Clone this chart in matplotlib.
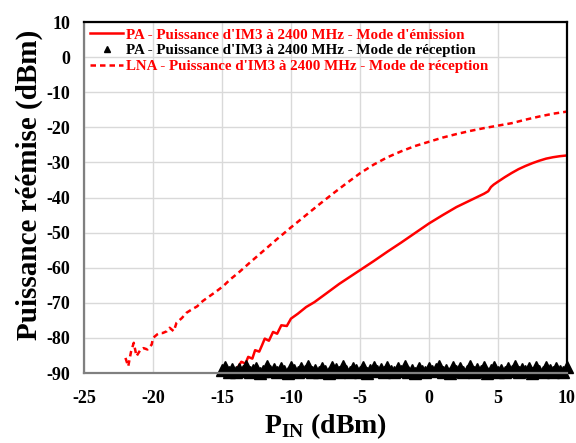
import numpy as np
import matplotlib.pyplot as plt

# %% data
# LNA - IM3 power, reception mode (dashed)
x_lna = [-22.0, -21.8, -21.6, -21.4, -21.2, -20.9, -20.7, -20.4, -20.1, -20.0,
         -19.7, -19.5, -19.3, -19.0, -18.8, -18.5, -18.3, -17.9, -17.6, -17.2,
         -16.8, -16.4, -15.9, -15.4, -14.9, -14.4, -13.8, -13.0, -12.0, -11.0,
         -10.0, -9.0, -8.0, -7.0, -6.0, -5.0, -4.0, -3.0, -2.0, -1.0,
         0.0, 1.0, 2.0, 3.0, 4.0, 5.0, 6.0, 7.0, 8.0, 9.0, 10.0]
y_lna = [-85.7, -88.1, -84.0, -81.4, -85.2, -83.3, -82.9, -83.3, -81.9, -80.0,
         -79.0, -78.6, -78.6, -78.1, -77.1, -78.1, -75.7, -74.3, -72.9, -71.9,
         -71.0, -69.5, -68.1, -66.7, -65.2, -63.3, -61.4, -58.6, -55.2, -51.8,
         -48.5, -45.3, -42.1, -39.0, -36.0, -33.1, -30.6, -28.5, -26.8, -25.3,
         -24.1, -22.9, -21.9, -21.0, -20.2, -19.5, -18.8, -17.8, -16.9, -16.1, -15.5]

# PA - IM3 power, emission mode (solid)
x_pa_tx = [-14.3, -13.9, -13.6, -13.3, -13.1, -12.8, -12.6, -12.3, -12.1, -11.9,
           -11.6, -11.3, -11.0, -10.7, -10.3, -10.0, -9.5, -8.9, -8.3, -7.5,
           -6.5, -5.5, -5.0, -4.0, -3.0, -2.0, -1.0, 0.0, 1.0, 2.0,
           3.0, 4.0, 4.3, 4.5, 4.7, 5.0, 5.5, 6.0, 6.5, 7.0,
           7.5, 8.0, 8.5, 9.0, 9.5, 10.0]
y_pa_tx = [-89.5, -88.7, -86.8, -87.3, -85.4, -85.9, -83.5, -83.9, -82.1, -80.2,
           -80.8, -78.3, -78.8, -76.4, -76.6, -74.5, -73.1, -71.2, -69.8, -67.5,
           -64.6, -62.0, -60.7, -58.1, -55.4, -52.8, -50.1, -47.4, -45.0, -42.7,
           -40.8, -38.9, -38.2, -37.0, -36.3, -35.5, -34.2, -33.0, -31.9, -31.0,
           -30.2, -29.5, -28.9, -28.5, -28.2, -28.0]

# PA - IM3 power, reception mode (triangles, noise floor)
x_pa_rx = np.arange(-15.0, 10.01, 0.25)
y_pa_rx = [-89.2, -88.4, -89.6, -89.0, -89.8, -88.9, -89.4, -88.1, -89.7, -89.1,
           -88.5, -89.9, -89.3, -87.9, -89.5, -89.0, -89.8, -88.6, -89.4, -89.9,
           -88.3, -89.2, -89.7, -88.7, -89.5, -88.0, -89.8, -89.1, -89.6, -88.6,
           -89.3, -89.9, -88.2, -89.0, -89.7, -88.1, -89.4, -89.8, -88.7, -89.2,
           -89.6, -88.4, -89.9, -89.1, -88.2, -89.5, -89.0, -89.8, -88.3, -89.3,
           -89.7, -88.7, -89.4, -87.9, -89.6, -89.1, -89.9, -88.5, -89.3, -89.8,
           -88.6, -89.5, -89.0, -88.1, -89.7, -89.2, -89.9, -88.3, -89.4, -88.7,
           -89.8, -89.3, -88.0, -89.6, -89.0, -89.5, -88.4, -89.9, -89.2, -88.2,
           -89.7, -89.1, -89.6, -88.5, -89.4, -88.1, -89.8, -89.0, -89.5, -88.6,
           -89.9, -88.3, -89.3, -89.7, -88.2, -89.2, -89.8, -88.5, -89.4, -89.6, -88.4]

labels = ["PA - Puissance d'IM3 à 2400 MHz - Mode d'émission",
          "PA - Puissance d'IM3 à 2400 MHz - Mode de réception",
          "LNA - Puissance d'IM3 à 2400 MHz - Mode de réception"]

# %% visualize
plt.rcParams['font.family'] = ['Liberation Serif', 'DejaVu Serif']
plt.rcParams['font.weight'] = 'bold'
plt.rcParams['axes.unicode_minus'] = False
plt.rcParams['mathtext.fontset'] = 'custom'
plt.rcParams['mathtext.bf'] = 'Liberation Serif:bold'
plt.rcParams['mathtext.rm'] = 'Liberation Serif:bold'

fig = plt.figure(figsize=(5.76, 4.43), dpi=100)
ax = fig.add_axes([0.146, 0.158, 0.838, 0.792])

ax.plot(x_pa_tx, y_pa_tx, color='red', lw=1.8, label=labels[0])
ax.plot(x_pa_rx, y_pa_rx, ls='none', marker='^', ms=8.5,
        color='black', clip_on=False, label=labels[1])
ax.plot(x_lna, y_lna, color='red', lw=1.8, ls=(0, (2.2, 1.6)), label=labels[2])

# cosmetics
ax.set_xlim(-25, 10)
ax.set_ylim(-90, 10)
ax.set_xticks(np.arange(-25, 11, 5))
ax.set_yticks(np.arange(-90, 11, 10))
ax.tick_params(length=0, labelsize=13)
ax.tick_params(axis='x', pad=12)
ax.tick_params(axis='y', pad=10)
ax.grid(True, color='#d9d9d9', lw=1)
ax.set_axisbelow(True)
for side in ['top', 'right']:
    ax.spines[side].set_color('black')
    ax.spines[side].set_linewidth(1.6)
for side in ['left', 'bottom']:
    ax.spines[side].set_color('#808080')
    ax.spines[side].set_linewidth(1.6)

ax.set_xlabel(r'P$_{\mathbf{IN}}$ (dBm)', fontsize=20, fontweight='bold', labelpad=3)
ax.set_ylabel('Puissance réémise (dBm)', fontsize=21, fontweight='bold')
ax.yaxis.set_label_coords(-0.085, 0.535)

lgd = ax.legend(loc='upper left', frameon=False, fontsize=10.8,
                labelcolor=['red', 'black', 'red'], handlelength=2.2,
                handletextpad=0.2, borderaxespad=0.1, labelspacing=0.15,
                borderpad=0.3, markerscale=0.55)
for t in lgd.get_texts():
    t.set_fontweight('bold')

fig.savefig('out.png', dpi=100)
